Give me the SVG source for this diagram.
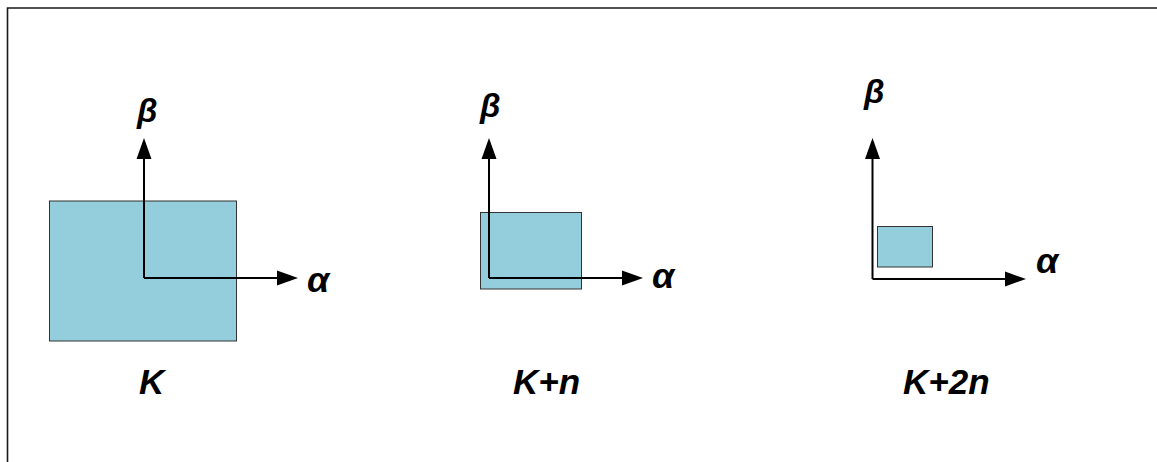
<svg xmlns="http://www.w3.org/2000/svg" width="1157" height="462" viewBox="0 0 1157 462">
<defs>
<marker id="ah" markerUnits="userSpaceOnUse" markerWidth="22" markerHeight="16" refX="0" refY="7.5" orient="auto" viewBox="0 0 22 15" overflow="visible">
<path d="M0,0 L21,7.5 L0,15 Z" fill="#000"/>
</marker>
<style>
.box{fill:#94CDDB;stroke:#333;stroke-width:1}
.ax{fill:none;stroke:#000;stroke-width:2}
.lbl{font-family:"Liberation Sans",Arial,sans-serif;font-weight:bold;font-style:italic;fill:#000}
.gk{font-size:33px}
.ga{font-size:36px}
.nm{font-size:35px}
</style>
</defs>
<rect width="1157" height="462" fill="#fff"/>
<path d="M7.5,462 V8 H1157" fill="none" stroke="#1a1a1a" stroke-width="1.6"/>
<g id="node-K">
<rect class="box" x="49.5" y="201" width="187" height="140"/>
<text class="lbl nm" x="139" y="394">K</text>
</g>
<g id="node-Kn">
<rect class="box" x="480.5" y="212.5" width="101" height="76.5"/>
<text class="lbl nm" x="513" y="394">K+n</text>
</g>
<g id="node-K2n">
<rect class="box" x="877.5" y="226.5" width="55" height="40.5"/>
<text class="lbl nm" x="903" y="394">K+2n</text>
</g>
<g id="connectors">
<path class="ax" d="M144,278 V159" marker-end="url(#ah)"/>
<path class="ax" d="M144,278 H277" marker-end="url(#ah)"/>
<path class="ax" d="M489,278 V159" marker-end="url(#ah)"/>
<path class="ax" d="M489,278 H622" marker-end="url(#ah)"/>
<path class="ax" d="M872.5,279 V159" marker-end="url(#ah)"/>
<path class="ax" d="M872.5,279 H1005" marker-end="url(#ah)"/>
</g>
<g id="labels">
<text class="lbl gk" x="137" y="122">β</text>
<text class="lbl ga" x="307" y="292">α</text>
<text class="lbl gk" x="480" y="117">β</text>
<text class="lbl ga" x="652" y="288">α</text>
<text class="lbl gk" x="864" y="103">β</text>
<text class="lbl ga" x="1036" y="273">α</text>
</g>
</svg>
